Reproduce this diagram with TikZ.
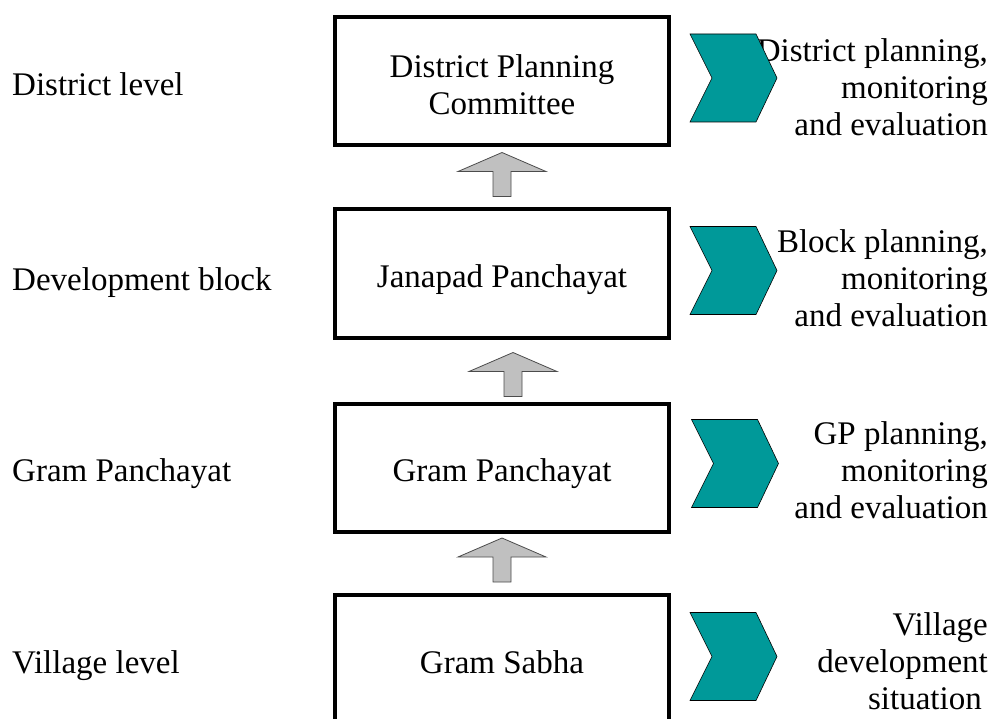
\documentclass[tikz,border=0pt]{standalone}
\usepackage{fontspec}
\setmainfont{Liberation Serif}
\usetikzlibrary{calc}
\definecolor{chevteal}{HTML}{009999}
\definecolor{arrowgray}{HTML}{C0C0C0}

\begin{document}
\begin{tikzpicture}[
  x=1pt, y=1pt,
  every node/.style={font=\fontsize{33}{37}\selectfont, inner sep=0pt},
  level box/.style={draw, line width=4pt, minimum width=334pt, minimum height=128pt,
    align=center, text height=28pt, text depth=0pt},
  level label/.style={anchor=base west},
  output text/.style={anchor=east, align=right},
  up arrow/.pic={\filldraw[fill=arrowgray, draw=black!70, line width=0.8pt]
    (-9,0) -- (9,0) -- (9,25) -- (44,25) -- (0,44) -- (-44,25) -- (-9,25) -- cycle;},
  chevron/.pic={\filldraw[fill=chevteal, draw=black, line width=0.6pt]
    (-43.5,44) -- (22.5,44) -- (43.5,0) -- (22.5,-44) -- (-43.5,-44) -- (-21.5,0) -- cycle;},
]
  \useasboundingbox (0,0) rectangle (995,-719);

  % the four levels
  \node[level box, text height=68pt] (dpc) at (502,-81) {District Planning\\Committee};
  \node[level box] (jp) at (502,-273.5) {Janapad Panchayat};
  \node[level box] (gp) at (502,-467.5) {Gram Panchayat};
  \node[level box] (gs) at (502,-659) {Gram Sabha};

  % level names
  \node[level label] (ldist) at (12,-96) {District level};
  \node[level label] (lblock) at (12,-290) {Development block};
  \node[level label] (lgp) at (12,-481) {Gram Panchayat};
  \node[level label] (lvill) at (12,-673) {Village level};

  % upward arrows
  \pic at ($(jp.north)+(0,11)$) {up arrow};
  \pic at ($(gp.north)+(11,5)$) {up arrow};
  \pic at ($(gs.north)+(0,11)$) {up arrow};

  % what each level does
  \node[output text] (odist) at (988,-87.5) {District planning,\\monitoring\\and evaluation};
  \node[output text] (oblock) at (988,-278.5) {Block planning,\\monitoring\\and evaluation};
  \node[output text] (ogp) at (988,-470.5) {GP planning,\\monitoring\\and evaluation};
  \node[output text] (ovill) at (988,-661.5) {Village\\development\\situation\hspace*{6pt}};

  \pic at (733.5,-78) {chevron};
  \pic at (733.5,-270.5) {chevron};
  \pic at (735,-463.5) {chevron};
  \pic at (733.5,-656.5) {chevron};
\end{tikzpicture}
\end{document}
